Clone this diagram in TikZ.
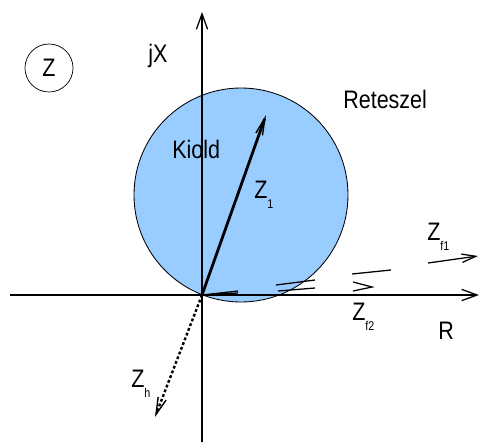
\documentclass[tikz,border=0pt]{standalone}
\usepackage{fontspec}
\setmainfont{Liberation Sans}[FakeStretch=0.85]
\usetikzlibrary{arrows.meta}
\definecolor{regionblue}{RGB}{153,204,255}
\newcommand{\zlow}[1]{\raisebox{-7.8pt}{\fontsize{9}{9}\selectfont #1}}

\begin{document}
\begin{tikzpicture}[x=0.025cm, y=-0.025cm,
        % stilusok
        axis/.style={line width=0.9pt, -{Straight Barb[length=11pt, width=8pt, line width=0.9pt]}},
        vec/.style={line width=2pt, -{Straight Barb[length=12pt, width=5pt, line width=1pt]}},
        dotvec/.style={line width=1.7pt, dash pattern=on 2pt off 1.6pt, -{Straight Barb[length=12pt, width=6pt, line width=1pt]}},
        thinvec/.style={line width=0.9pt, -{Straight Barb[length=10pt, width=6pt, line width=0.9pt]}},
        piece/.style={line width=0.9pt},
        lbl/.style={inner sep=0pt, anchor=base west, font=\fontsize{18}{20}\selectfont}
    ]
    \useasboundingbox (0,0) rectangle (482,442);

    % Kiold tartomany
    \draw[fill=regionblue, line width=0.6pt] (241,195) circle (107);

    % Tengelyek
    \coordinate (O) at (202,295);
    \coordinate (xs) at (10,295);
    \coordinate (xe) at (479,295);
    \coordinate (ys) at (202,442);
    \coordinate (ye) at (202,12);
    \draw[axis] (xs) -- (xe);
    \draw[axis] (ys) -- (ye);

    % Vektorok
    \coordinate (z1tip) at (266,115);
    \coordinate (zhtip) at (155,417);
    \coordinate (f1s) at (428,263);
    \coordinate (f1e) at (478,256);
    \draw[vec] (O) -- (z1tip);
    \draw[dotvec] (O) -- (zhtip);
    \draw[thinvec] (f1s) -- (f1e);

    % Z_f2 darabjai
    \draw[piece] (O) -- (238,291);
    \draw[piece] (218,294) -- (238,293);
    \draw[piece] (276,285) -- (315,280);
    \draw[piece] (278,291) -- (315,288);
    \draw[piece] (352,274) -- (391,270);
    \draw[piece] (353,282) -- (372,287) -- (353,291);

    % Feliratok
    \node[draw, circle, line width=0.5pt, minimum size=1.2cm, inner sep=0pt,
          font=\fontsize{18}{20}\selectfont] (zc) at (49,68) {Z};
    \node[lbl] (jx) at (148,62) {jX};
    \node[lbl] (ret) at (343,108) {Reteszel};
    \node[lbl] (kiold) at (172,158) {Kiold};
    \node[lbl] (z1) at (254,198) {Z\zlow{1}};
    \node[lbl] (zf1) at (427,240) {Z\zlow{f1}};
    \node[lbl] (zf2) at (352,320) {Z\zlow{f2}};
    \node[lbl] (zh) at (131,387) {Z\zlow{h}};
    \node[lbl] (r) at (438,339) {R};

\end{tikzpicture}
\end{document}
